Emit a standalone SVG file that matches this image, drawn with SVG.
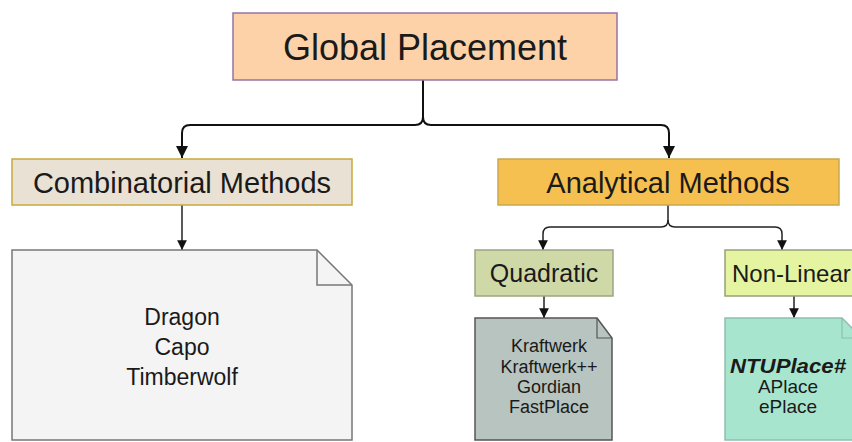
<svg xmlns="http://www.w3.org/2000/svg" width="852" height="442" viewBox="0 0 852 442">
<defs>
<style>
text{font-family:"Liberation Sans",Arial,sans-serif;fill:#1a1a1a;text-anchor:middle}
.c{fill:none;stroke:#111;stroke-width:2}
.c2{fill:none;stroke:#222;stroke-width:1.5}
</style>
<marker id="ah" viewBox="0 0 10 10" refX="10" refY="5" markerWidth="6" markerHeight="6" orient="auto" markerUnits="strokeWidth"><path d="M0,0 L10,5 L0,10 z" fill="#111"/></marker>
<marker id="ah2" viewBox="0 0 10 10" refX="10" refY="5" markerWidth="6.5" markerHeight="6.5" orient="auto" markerUnits="strokeWidth"><path d="M0,0 L10,5 L0,10 z" fill="#111"/></marker>
</defs>
<rect width="852" height="442" fill="#fff"/>
<g id="connectors">
<path class="c" d="M423,80 V117 Q423,125 415,125 H190 Q182,125 182,133 V158" marker-end="url(#ah)"/>
<path class="c" d="M423,117 Q423,125 431,125 H661 Q669,125 669,133 V158" marker-end="url(#ah)"/>
<path class="c2" d="M182,205 V250" marker-end="url(#ah2)"/>
<path class="c2" d="M668,205 V220 Q668,227 661,227 H550 Q543,227 543,234 V250" marker-end="url(#ah2)"/>
<path class="c2" d="M668,220 Q668,227 675,227 H775 Q782,227 782,234 V250" marker-end="url(#ah2)"/>
<path class="c2" d="M544,296 V318" marker-end="url(#ah2)"/>
<path class="c2" d="M794,296 V318" marker-end="url(#ah2)"/>
</g>
<g id="global">
<rect x="233" y="13" width="384" height="67" fill="#fdd2a8" stroke="#9673a6" stroke-width="1.5"/>
<text x="425" y="60" font-size="36">Global Placement</text>
</g>
<g id="combinatorial">
<rect x="12" y="159" width="340" height="46" fill="#e9e1d3" stroke="#c8a83c" stroke-width="1.5"/>
<text x="182" y="193" font-size="29">Combinatorial Methods</text>
</g>
<g id="analytical">
<rect x="498" y="159" width="341" height="46" fill="#f5c050" stroke="#c9a84d" stroke-width="1.5"/>
<text x="668" y="193" font-size="29">Analytical Methods</text>
</g>
<g id="combo-doc">
<path d="M12,250 H317 L352,285 V440 H12 Z" fill="#f4f4f4" stroke="#777" stroke-width="1.5"/>
<path d="M317,250 V285 H352" fill="none" stroke="#777" stroke-width="1.5"/>
<text x="182" y="325" font-size="23">Dragon</text>
<text x="182" y="355" font-size="23">Capo</text>
<text x="182" y="385" font-size="23">Timberwolf</text>
</g>
<g id="quadratic">
<rect x="475" y="250" width="138" height="46" fill="#cfd9a7" stroke="#9aa585" stroke-width="1.5"/>
<text x="544" y="282" font-size="25">Quadratic</text>
</g>
<g id="nonlinear">
<rect x="725" y="250" width="140" height="46" fill="#e5f4a1" stroke="#97a07a" stroke-width="1.5"/>
<text x="732" y="282" font-size="24" style="text-anchor:start">Non-Linear</text>
</g>
<g id="quad-doc">
<path d="M475,318 H597 L612,338 V440 H475 Z" fill="#b8c4bf" stroke="#555" stroke-width="1.5"/>
<path d="M597,318 V338 H612" fill="none" stroke="#555" stroke-width="1.2"/>
<text x="549" y="352" font-size="18">Kraftwerk</text>
<text x="549" y="373" font-size="18">Kraftwerk++</text>
<text x="549" y="393" font-size="18">Gordian</text>
<text x="549" y="413" font-size="18">FastPlace</text>
</g>
<g id="nonlinear-doc">
<path d="M725,318 H842 L862,338 V440 H725 Z" fill="#a7e5ce" stroke="#8fbfb0" stroke-width="1.5"/>
<path d="M842,318 V338 H862" fill="none" stroke="#8fbfb0" stroke-width="1.2"/>
<text x="788" y="373" font-size="20" font-weight="bold" font-style="italic" textLength="116" lengthAdjust="spacingAndGlyphs">NTUPlace#</text>
<text x="788" y="393" font-size="19">APlace</text>
<text x="788" y="413" font-size="19">ePlace</text>
</g>
</svg>
